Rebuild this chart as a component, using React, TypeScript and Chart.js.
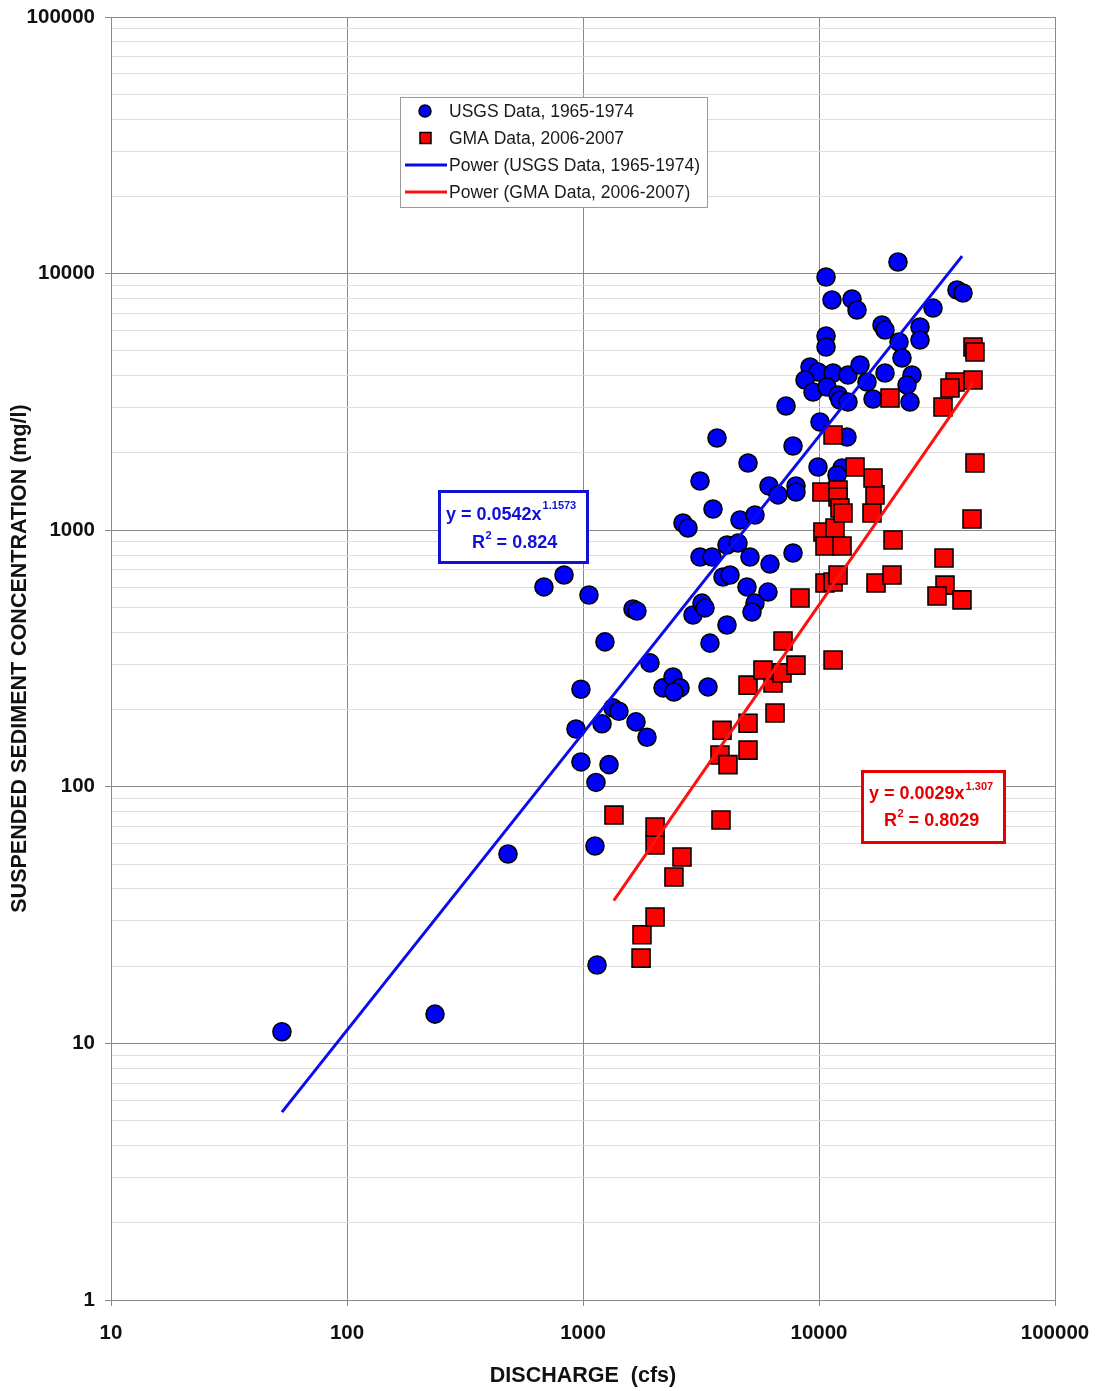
import React, { useEffect, useRef } from 'react';
import { Chart, registerables } from 'chart.js';

Chart.register(...registerables);

// ---------- data ----------
const usgsDischarge = [
  53, 236, 481, 683, 831, 1060, 934, 980, 980, 1135,
  1204, 1239, 1289, 1124, 1147, 1340, 1420, 1629, 1693, 1677,
  1867, 1922, 2183, 2406, 2577, 2429, 3386, 2925, 3193, 3288,
  3452, 3132, 3521, 4075, 4538, 3919, 4197, 4075, 4953, 5355,
  5201, 6079, 5100, 6199, 7761, 3555, 2653, 2785, 4627, 5355,
  3132, 3697, 5003, 6139, 6703, 7988, 7988, 7761, 7248, 9903,
  10100, 13140, 12520, 11920, 9160, 9903, 11470, 8724, 9432, 10810,
  12040, 12270, 13270, 14920, 15970, 13270, 19040, 24780, 23600, 16940,
  24300, 10710, 10710, 21830, 22470, 18490, 19040, 26790, 26790, 30420,
  10710, 21610, 11350, 13800, 14490, 38430, 40750,
];
const usgsConcentration = [
  11.1, 13.0, 54.7, 601, 669, 559, 168, 240, 125, 104,
  176, 367, 122, 58.8, 20.2, 203, 197, 493, 484, 179,
  156, 304, 243, 268, 243, 234, 245, 467, 520, 498,
  363, 786, 786, 876, 891, 657, 669, 427, 601, 520,
  480, 574, 786, 738, 815, 1209, 1067, 1020, 1096, 1146,
  1555, 2287, 1828, 1487, 1373, 1487, 1409, 2129, 3048, 1763,
  2641, 2308, 1748, 1641, 4325, 4135, 4098, 3848, 3455, 3614,
  3365, 3217, 4025, 4403, 3780, 3159, 4098, 4025, 3680, 3246,
  3159, 5712, 5176, 5411, 4690, 6306, 6029, 6194, 5510, 7340,
  9700, 11100, 7890, 7962, 7211, 8630, 8400,
];
const gmaDischarge = [
  1762, 1778, 2020, 2429, 2627, 2020, 2020, 1353, 3843, 3805,
  4115, 3882, 5003, 5003, 6512, 5003, 6385, 5789, 6970, 7988,
  7039, 8310, 11470, 10600, 11470, 12040, 17440, 20390, 34190, 31620,
  40350, 33860, 20590, 10390, 11690, 10600, 12520, 44500, 45810, 10290,
  12040, 12040, 12270, 12640, 16770, 17270, 16940, 14210, 11470, 19990,
  33530, 37700, 35900, 44930, 44930, 45810,
];
const gmaConcentration = [
  21.5, 26.5, 31.1, 44.5, 53.3, 59.3, 69.7, 77.6, 74.2, 133,
  122, 166, 139, 177, 194, 249, 254, 285, 278, 298,
  370, 544, 312, 623, 628, 669, 623, 669, 611, 554,
  535, 779, 916, 984, 1020, 868, 868, 1106, 1828, 1409,
  1435, 1347, 1220, 1167, 1167, 1373, 1597, 1763, 2350, 3275,
  3021, 3780, 3582, 3848, 5176, 4946,
];
// trend line end points (power fits, straight on log-log axes)
const usgsTrendDischarge = [53, 40400];
const usgsTrendConcentration = [5.4, 11700];
const gmaTrendDischarge = [1350, 45000];
const gmaTrendConcentration = [36, 3750];

const xTickValues = [10, 100, 1000, 10000, 100000];
const yDecades = [1, 10, 100, 1000, 10000, 100000];

const seriesLabels = [
  'USGS Data, 1965-1974',
  'GMA Data, 2006-2007',
  'Power (USGS Data, 1965-1974)',
  'Power (GMA Data, 2006-2007)',
];
const usgsEquation = { main: 'y = 0.0542x', exp: '1.1573', r2: ' = 0.824' };
const gmaEquation = { main: 'y = 0.0029x', exp: '1.307', r2: ' = 0.8029' };
const xTitle = 'DISCHARGE  (cfs)';
const yTitle = 'SUSPENDED SEDIMENT CONCENTRATION (mg/l)';

// ---------- styles ----------
const FONT = '"Liberation Sans", Arial, Helvetica, sans-serif';
const BLUE = '#0000ff';
const RED = '#ff0000';
const BLUE_LINE = '#0a0aee';
const RED_LINE = '#ff1010';
const MAJOR_GRID = '#8a8a8a';
const MINOR_GRID = '#dedede';

const zip = (xs: number[], ys: number[]) => xs.map((x, i) => ({ x, y: ys[i] }));

function yTickList(): number[] {
  const out: number[] = [];
  for (let i = 0; i < yDecades.length - 1; i++) {
    for (let m = 1; m <= 9; m++) out.push(yDecades[i] * m);
  }
  out.push(yDecades[yDecades.length - 1]);
  return out;
}
const isDecade = (v: number) => Math.abs(Math.log10(v) - Math.round(Math.log10(v))) < 1e-9;

const clearPadding = (scale: any) => {
  scale.paddingLeft = 0;
  scale.paddingRight = 0;
  scale.paddingTop = 0;
  scale.paddingBottom = 0;
};

const overlayPlugin = {
  id: 'overlay',
  afterDraw(chart: any) {
    const ctx: CanvasRenderingContext2D = chart.ctx;
    ctx.save();

    // ---- legend ----
    const lx = 400, ly = 97, lw = 307, lh = 110;
    ctx.fillStyle = '#ffffff';
    ctx.fillRect(lx, ly, lw, lh);
    ctx.strokeStyle = '#9a9a9a';
    ctx.lineWidth = 1;
    ctx.strokeRect(lx + 0.5, ly + 0.5, lw, lh);
    const rows = [111, 138, 165, 192];
    ctx.font = `17.5px ${FONT}`;
    ctx.textBaseline = 'middle';
    ctx.textAlign = 'left';
    // circle
    ctx.beginPath();
    ctx.arc(425, rows[0], 6, 0, Math.PI * 2);
    ctx.fillStyle = BLUE;
    ctx.fill();
    ctx.strokeStyle = '#000';
    ctx.lineWidth = 1.5;
    ctx.stroke();
    // square
    ctx.fillStyle = RED;
    ctx.fillRect(420, rows[1] - 5.5, 11, 11);
    ctx.strokeRect(420, rows[1] - 5.5, 11, 11);
    // lines
    ctx.lineWidth = 3;
    ctx.strokeStyle = BLUE_LINE;
    ctx.beginPath();
    ctx.moveTo(405, rows[2]);
    ctx.lineTo(447, rows[2]);
    ctx.stroke();
    ctx.strokeStyle = RED_LINE;
    ctx.beginPath();
    ctx.moveTo(405, rows[3]);
    ctx.lineTo(447, rows[3]);
    ctx.stroke();
    ctx.fillStyle = '#1a1a1a';
    seriesLabels.forEach((t, i) => ctx.fillText(t, 449, rows[i] + 1));

    // ---- equation boxes ----
    const drawEq = (
      box: [number, number, number, number],
      color: string,
      eq: { main: string; exp: string; r2: string },
      mainX: number,
      mainY: number,
      expDy: number,
      rX: number,
      rY: number,
    ) => {
      const [bx, by, bw, bh] = box;
      ctx.fillStyle = '#ffffff';
      ctx.fillRect(bx, by, bw, bh);
      ctx.strokeStyle = color;
      ctx.lineWidth = 3;
      ctx.strokeRect(bx, by, bw, bh);
      ctx.fillStyle = color;
      ctx.textBaseline = 'alphabetic';
      ctx.textAlign = 'left';
      ctx.font = `bold 18px ${FONT}`;
      ctx.fillText(eq.main, mainX, mainY);
      const w = ctx.measureText(eq.main).width;
      ctx.font = `bold 11px ${FONT}`;
      ctx.fillText(eq.exp, mainX + w + 1, mainY - expDy);
      ctx.font = `bold 18px ${FONT}`;
      ctx.fillText('R', rX, rY);
      const rw = ctx.measureText('R').width;
      ctx.font = `bold 11px ${FONT}`;
      ctx.fillText('2', rX + rw + 0.5, rY - 9);
      const tw = ctx.measureText('2').width;
      ctx.font = `bold 18px ${FONT}`;
      ctx.fillText(eq.r2, rX + rw + tw + 0.5, rY);
    };
    drawEq([439.5, 491.5, 148, 71], '#1010d8', usgsEquation, 446, 520, 11, 472, 548);
    drawEq([862.5, 771.5, 142, 71], '#e60000', gmaEquation, 869, 799, 9, 884, 826);

    ctx.restore();
  },
};

export default function App() {
  const ref = useRef<HTMLCanvasElement | null>(null);

  useEffect(() => {
    if (!ref.current) return;
    const yTicks = yTickList();
    const chart = new Chart(ref.current, {
      type: 'scatter',
      data: {
        datasets: [
          {
            label: seriesLabels[2],
            data: zip(usgsTrendDischarge, usgsTrendConcentration),
            showLine: true,
            borderColor: BLUE_LINE,
            borderWidth: 3,
            pointRadius: 0,
            fill: false,
            order: 0,
          },
          {
            label: seriesLabels[3],
            data: zip(gmaTrendDischarge, gmaTrendConcentration),
            showLine: true,
            borderColor: RED_LINE,
            borderWidth: 3,
            pointRadius: 0,
            fill: false,
            order: 1,
          },
          {
            label: seriesLabels[1],
            data: zip(gmaDischarge, gmaConcentration),
            pointStyle: 'rect',
            pointRadius: 12.7,
            backgroundColor: RED,
            borderColor: '#000000',
            borderWidth: 1.6,
            order: 2,
          },
          {
            label: seriesLabels[0],
            data: zip(usgsDischarge, usgsConcentration),
            pointStyle: 'circle',
            pointRadius: 9,
            backgroundColor: BLUE,
            borderColor: '#000000',
            borderWidth: 1.6,
            order: 3,
          },
        ],
      },
      options: {
        responsive: false,
        animation: false,
        devicePixelRatio: 1,
        layout: { autoPadding: false, padding: { top: 17, right: 41, left: 0, bottom: 0 } },
        plugins: {
          legend: { display: false },
          tooltip: { enabled: false },
        },
        scales: {
          x: {
            type: 'logarithmic',
            min: 10,
            max: 100000,
            afterFit: (scale: any) => {
              scale.height = 91;
              clearPadding(scale);
            },
            afterBuildTicks: (scale: any) => {
              scale.ticks = xTickValues.map((v) => ({ value: v, major: true }));
            },
            ticks: {
              autoSkip: false,
              maxRotation: 0,
              padding: 15,
              color: '#111',
              font: { family: FONT, size: 20.5, weight: 'bold' },
              callback: (v: any) => String(v),
            },
            grid: {
              color: MAJOR_GRID,
              lineWidth: 1,
              tickLength: 6,
              tickColor: MAJOR_GRID,
            },
            border: { display: true, color: MAJOR_GRID },
            title: {
              display: true,
              text: xTitle,
              color: '#111',
              font: { family: FONT, size: 21.5, weight: 'bold' },
              padding: { top: 0, bottom: 2 },
            },
          },
          y: {
            type: 'logarithmic',
            min: 1,
            max: 100000,
            afterFit: (scale: any) => {
              scale.width = 111;
              clearPadding(scale);
            },
            afterBuildTicks: (scale: any) => {
              scale.ticks = yTicks.map((v) => ({ value: v, major: isDecade(v) }));
            },
            ticks: {
              autoSkip: false,
              padding: 10,
              color: '#111',
              font: { family: FONT, size: 20.5, weight: 'bold' },
              callback: (v: any) => (isDecade(Number(v)) ? String(v) : ''),
            },
            grid: {
              color: (c: any) => (c.tick && c.tick.major ? MAJOR_GRID : MINOR_GRID),
              lineWidth: 1,
              tickLength: 6,
              tickColor: (c: any) => (c.tick && c.tick.major ? MAJOR_GRID : 'rgba(0,0,0,0)'),
            },
            border: { display: true, color: MAJOR_GRID },
            title: {
              display: true,
              text: yTitle,
              color: '#111',
              font: { family: FONT, size: 21.5, weight: 'bold' },
              padding: { top: 7, bottom: 0 },
            },
          },
        },
      },
      plugins: [overlayPlugin],
    } as any);
    return () => chart.destroy();
  }, []);

  return (
    <div style={{ position: 'absolute', left: 0, top: 0, width: 1096, height: 1391, background: '#fff' }}>
      <canvas ref={ref} width={1096} height={1391} style={{ display: 'block' }} />
    </div>
  );
}
